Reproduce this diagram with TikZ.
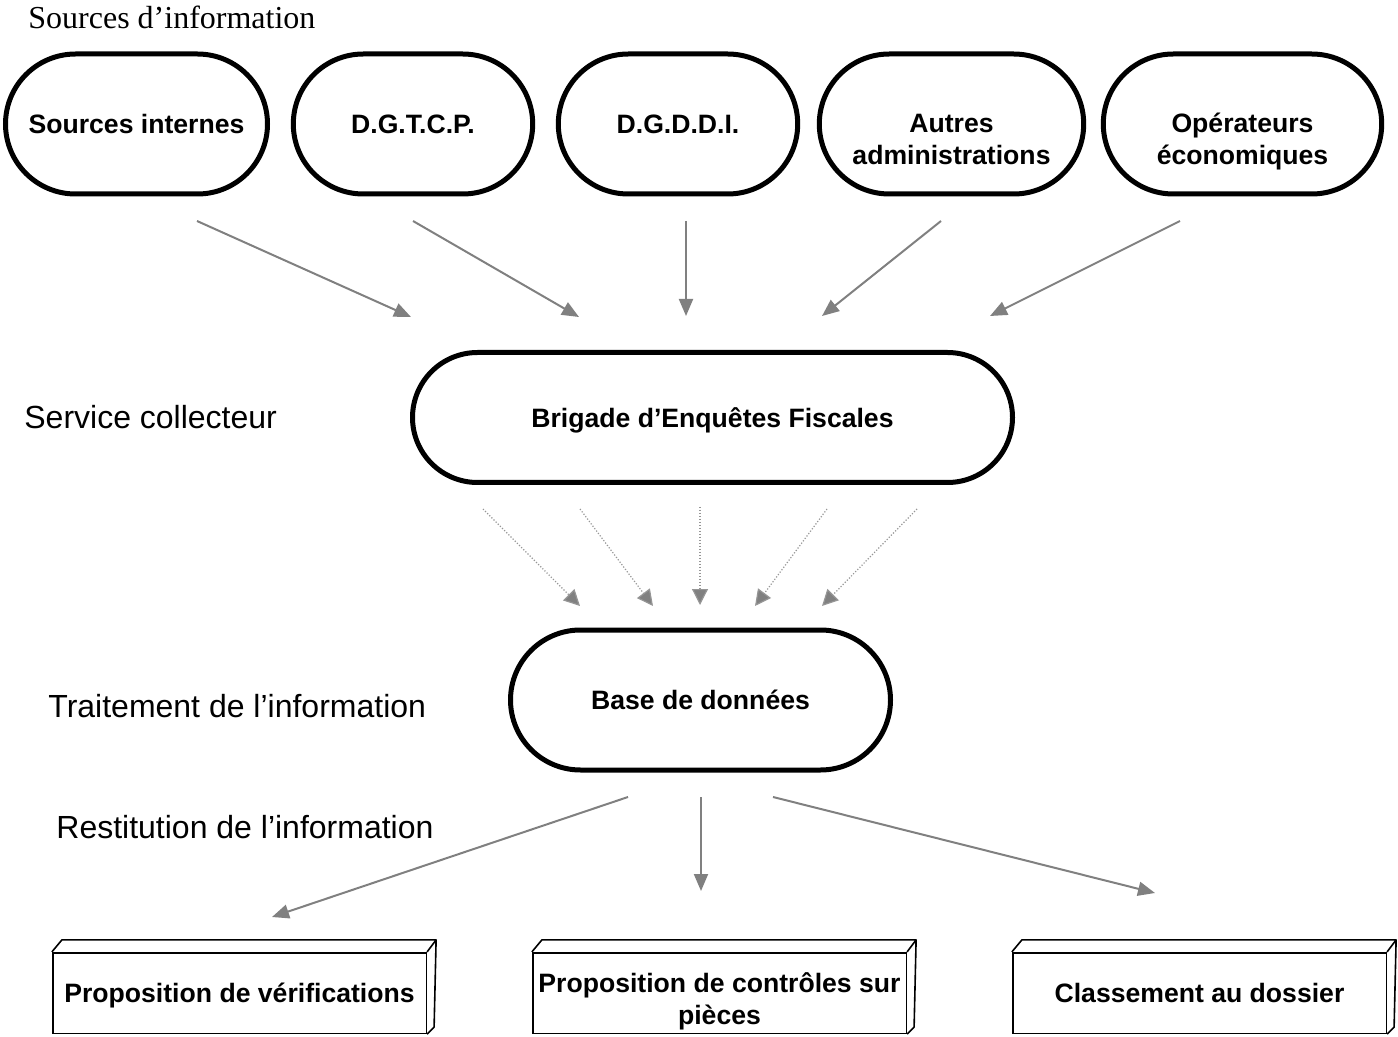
\documentclass[tikz,border=0pt]{standalone}
\usepackage{fontspec}
\setmainfont{Liberation Sans}
\newfontfamily\timesfont{Liberation Serif}
\usetikzlibrary{arrows.meta,shapes.misc}
\definecolor{flowgray}{RGB}{128,128,128}
\definecolor{dotgray}{RGB}{150,150,150}

\begin{document}
\begin{tikzpicture}[x=0.5pt,y=-0.5pt,
  oval/.style={draw, line width=2.5pt, rounded rectangle, minimum height=70pt,
    inner sep=0pt, align=center, text depth=0pt, font=\fontsize{13.3}{16}\selectfont\bfseries},
  bodytext/.style={inner sep=0pt, align=center, text depth=0pt, font=\fontsize{13.3}{16}\selectfont\bfseries},
  result/.style={draw, line width=0.8pt, minimum width=186.8pt, minimum height=40.3pt,
    inner sep=0pt, align=center, text depth=0pt, font=\fontsize{13.3}{16}\selectfont\bfseries},
  side/.style={anchor=west, inner sep=0pt, font=\fontsize{16}{19}\selectfont},
  flow/.style={draw=flowgray, line width=1pt, -{Triangle[length=8.5pt,width=7pt]}},
  feed/.style={draw=dotgray, line width=0.6pt, dash pattern=on 0.6pt off 0.9pt,
    -{Triangle[length=8pt,width=8pt,fill=flowgray]}}]
\useasboundingbox (0,0) rectangle (1398,1037);

% Side titles
\node[side, font=\fontsize{16}{19}\selectfont\timesfont] (tsrc) at (28,17) {Sources d’information};
\node[side] (tcol) at (24,417) {Service collecteur};
\node[side] (ttrt) at (48,706) {Traitement de l’information};
\node[side] (trst) at (56,827) {Restitution de l’information};

% Sources
\node[oval, minimum width=131pt] (src) at (136.5,124) {Sources internes};
\node[oval, minimum width=119.7pt] (dgtcp) at (413,124) {D.G.T.C.P.};
\node[oval, minimum width=119.7pt] (dgddi) at (678,124) {D.G.D.D.I.};
\node[oval, minimum width=132.2pt] (autres) at (951.5,124) {};
\node[bodytext] (autrestxt) at (951.5,139) {Autres\\administrations};
\node[oval, minimum width=139.2pt] (oper) at (1242.5,124) {};
\node[bodytext] (opertxt) at (1242.5,139) {Opérateurs\\économiques};

% Collecte et traitement
\node[oval, minimum width=300pt, minimum height=65pt] (bef) at (712.5,417.5) {Brigade d’Enquêtes Fiscales};
\node[oval, minimum width=190pt] (bdd) at (700.5,700) {Base de données};

% Restitution
\node[result] (verif) at (239.5,993) {Proposition de vérifications};
\node[result] (ctrl) at (719.5,993) {};
\node[bodytext] (ctrltxt) at (719.5,998.5) {Proposition de contrôles sur\\pièces};
\node[result] (class) at (1199.5,993) {Classement au dossier};
\foreach \b in {verif,ctrl,class}
  \draw[line width=0.8pt, line join=round] (\b.north west) -- ++(10,-12)
    -- ([shift={(9,-12)}]\b.north east) -- ([shift={(7,-7)}]\b.south east) -- (\b.south east)
    (\b.north east) -- ++(9,-12);

% Arrow ends
\coordinate (s1) at (197,221);  \coordinate (e1) at (411,317);
\coordinate (s2) at (413,221);  \coordinate (e2) at (579,317);
\coordinate (s3) at (686,221);  \coordinate (e3) at (686,316);
\coordinate (s4) at (941,221);  \coordinate (e4) at (822,316);
\coordinate (s5) at (1180,221); \coordinate (e5) at (990,316);

\coordinate (d1) at (483,509);  \coordinate (f1) at (580,606);
\coordinate (d2) at (580,509);  \coordinate (f2) at (653,606);
\coordinate (d3) at (700,507);  \coordinate (f3) at (700,605);
\coordinate (d4) at (827,509);  \coordinate (f4) at (755,606);
\coordinate (d5) at (917,509);  \coordinate (f5) at (822,606);

\coordinate (r1) at (628,797);  \coordinate (g1) at (272,917);
\coordinate (r2) at (701,797);  \coordinate (g2) at (701,891);
\coordinate (r3) at (773,797);  \coordinate (g3) at (1155,893);

\foreach \i in {1,...,5} {
  \draw[flow] (s\i) -- (e\i);
  \draw[feed] (d\i) -- (f\i);
}
\foreach \i in {1,2,3}
  \draw[flow] (r\i) -- (g\i);
\end{tikzpicture}
\end{document}
